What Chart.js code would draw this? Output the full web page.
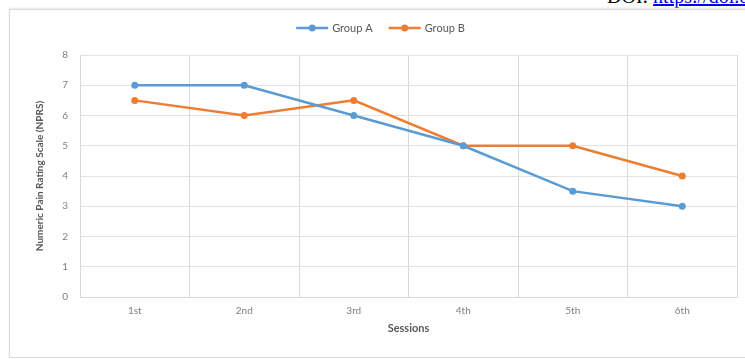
<!DOCTYPE html>
<html>
<head>
<meta charset="utf-8">
<script src="https://cdn.jsdelivr.net/npm/chart.js@4"></script>
<style>
  html, body { margin: 0; padding: 0; background: #fff; overflow: hidden; }
  #wrap { position: relative; width: 745px; height: 359px; overflow: hidden; }
  #doi { position: absolute; left: 607px; top: -14px; font: 20px "Liberation Serif", serif; line-height: 20px; color: #000; white-space: nowrap; }
  #doi a { color: #0000ee; text-decoration: underline; }
  #frame { position: absolute; left: 9px; top: 9px; width: 745px; height: 347px; border: 1px solid #d9d9d9; box-shadow: 0 -1px 2px #e6e6e6; }
  #lineChart { position: absolute; left: 0; top: 0; }
</style>
</head>
<body>
<div id="wrap">
  <div id="doi">DOI: <a>https://doi.org/</a></div>
  <div id="frame"></div>
  <canvas id="lineChart" width="745" height="359"></canvas>
</div>
<script>
// chart data
var sessions = ["1st", "2nd", "3rd", "4th", "5th", "6th"];
var groupA = [7, 7, 6, 5, 3.5, 3];
var groupB = [6.5, 6, 6.5, 5, 5, 4];
var yTicks = [0, 1, 2, 3, 4, 5, 6, 7, 8];

var blue = "#5b9bd5";
var orange = "#ed7d31";
var textGray = "#7f7f7f";

// legend drawn as line + marker, like the Excel one
var lineLegend = {
  id: "lineLegend",
  afterDraw: function (chart) {
    var c = chart.ctx;
    var sets = chart.data.datasets;
    c.save();
    c.font = "11px Lato";
    var lineW = 32, gap = 4, space = 16;
    var total = 0;
    sets.forEach(function (ds, i) {
      total += lineW + gap + c.measureText(ds.label).width;
      if (i < sets.length - 1) total += space;
    });
    var x = (chart.width - total) / 2 + 8;
    var y = 28;
    sets.forEach(function (ds) {
      c.strokeStyle = ds.borderColor;
      c.lineWidth = 2.5;
      c.beginPath();
      c.moveTo(x, y);
      c.lineTo(x + lineW, y);
      c.stroke();
      c.fillStyle = ds.borderColor;
      c.beginPath();
      c.arc(x + lineW / 2, y, 3.5, 0, Math.PI * 2);
      c.fill();
      x += lineW + gap;
      c.fillStyle = "#595959";
      c.textBaseline = "middle";
      c.fillText(ds.label, x, y);
      x += c.measureText(ds.label).width + space;
    });
    c.restore();
  }
};

var ctx_line = document.getElementById("lineChart").getContext("2d");

var lineChart = new Chart(ctx_line, {
  type: "line",
  data: {
    labels: sessions,
    datasets: [
      {
        label: "Group A",
        data: groupA,
        borderColor: blue,
        backgroundColor: blue,
        borderWidth: 2.5,
        pointRadius: 3.5,
        pointBorderWidth: 0,
        fill: false,
        tension: 0,
      },
      {
        label: "Group B",
        data: groupB,
        borderColor: orange,
        backgroundColor: orange,
        borderWidth: 2.5,
        pointRadius: 3.5,
        pointBorderWidth: 0,
        fill: false,
        tension: 0,
      },
    ],
  },
  options: {
    responsive: false,
    animation: false,
    layout: { padding: { left: 30, right: 8, top: 55, bottom: 20 } },
    plugins: {
      legend: { display: false },
      tooltip: { enabled: false },
    },
    scales: {
      x: {
        offset: true,
        grid: { offset: true, color: "#d9d9d9", drawTicks: false },
        border: { color: "#d9d9d9" },
        ticks: { color: textGray, font: { family: "Lato", size: 10 }, padding: 8 },
        title: { display: true, text: "Sessions", color: "#595959", font: { family: "Lato", size: 11, weight: "bold" }, padding: { top: 4 } },
        afterFit: function (s) { s.height = 42; },
      },
      y: {
        min: 0,
        max: 8,
        afterBuildTicks: function (s) { s.ticks = yTicks.map(function (v) { return { value: v }; }); },
        grid: { color: "#e3e3e3", drawTicks: false },
        border: { color: "#d9d9d9" },
        ticks: { color: textGray, font: { family: "Lato", size: 10 }, padding: 12 },
        title: { display: true, text: "Numeric Pain Rating Scale (NPRS)", color: "#595959", font: { family: "Lato", size: 10, weight: "bold" }, padding: { bottom: 0 } },
        afterFit: function (s) { s.width = 50; },
      },
    },
  },
  plugins: [lineLegend],
});
</script>
</body>
</html>
